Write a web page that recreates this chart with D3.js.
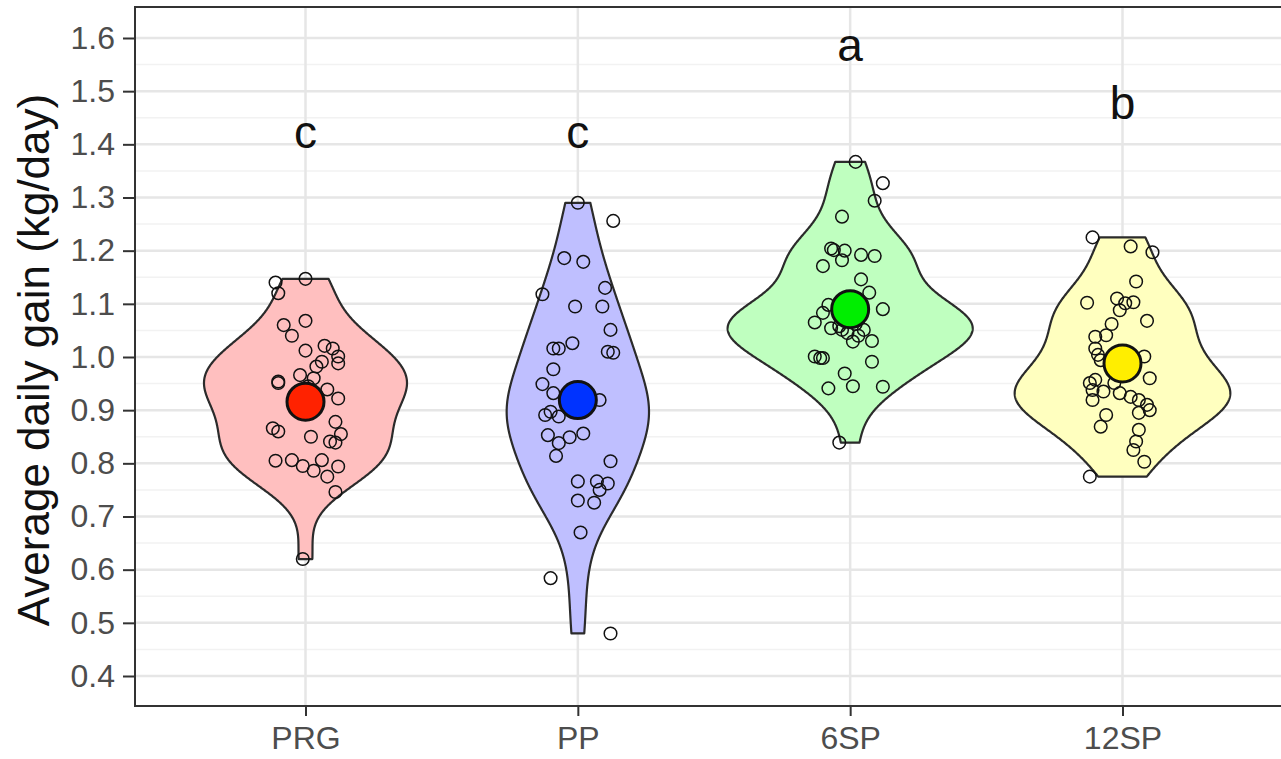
<!DOCTYPE html>
<html><head><meta charset="utf-8">
<script src="https://cdn.jsdelivr.net/npm/d3@7"></script>
<style>body{margin:0;background:#fff}svg{display:block}</style>
</head><body>
<svg id="c" width="1281" height="759"></svg>
<script>
const categories = ["PRG","PP","6SP","12SP"];
const fills = ["#FFBFBF","#BFBFFF","#BFFFBF","#FFFFBF"];
const meanColors = ["#FF2200","#0033FF","#00EE00","#FFEE00"];
const means = [0.916, 0.919, 1.090, 0.988];
const letters = ["c","c","a","b"];
const letterY = [1.415, 1.415, 1.58, 1.47];
const yTicks = [0.4,0.5,0.6,0.7,0.8,0.9,1.0,1.1,1.2,1.3,1.4,1.5,1.6];
const yMinor = [0.45,0.55,0.65,0.75,0.85,0.95,1.05,1.15,1.25,1.35,1.45,1.55];
// [value, jitter (in category units)]
const prg = [[1.140,-0.11],[1.120,-0.10],[1.147,0.00],[1.060,-0.08],[1.068,0.00],[1.040,-0.05],[1.012,0.00],[1.021,0.07],[1.016,0.10],[1.001,0.12],[0.988,0.12],[0.991,0.06],[0.982,0.04],[0.966,-0.02],[0.954,-0.10],[0.951,-0.10],[0.939,0.08],[0.922,0.12],[0.878,0.11],[0.855,0.13],[0.841,0.09],[0.839,0.11],[0.850,0.02],[0.866,-0.12],[0.860,-0.10],[0.805,-0.11],[0.806,-0.05],[0.795,-0.01],[0.786,0.03],[0.806,0.06],[0.775,0.08],[0.794,0.12],[0.746,0.11],[0.620,-0.01],[0.930,0.02],[0.905,-0.02],[0.945,0.01],[0.960,0.03],[0.925,-0.01],[0.915,0.01]];
const pp = [[1.290,0.00],[1.256,0.13],[1.186,-0.05],[1.179,0.02],[1.118,-0.13],[1.130,0.10],[1.095,0.09],[1.095,-0.01],[1.051,0.12],[1.026,-0.02],[1.016,-0.09],[1.016,-0.07],[1.010,0.11],[1.008,0.13],[0.977,-0.09],[0.949,-0.13],[0.932,-0.09],[0.919,0.08],[0.891,-0.12],[0.897,-0.10],[0.888,-0.07],[0.853,-0.11],[0.838,-0.07],[0.849,-0.03],[0.856,0.02],[0.814,-0.08],[0.804,0.12],[0.766,0.00],[0.766,0.07],[0.762,0.11],[0.750,0.08],[0.730,0.00],[0.726,0.06],[0.670,0.01],[0.584,-0.10],[0.480,0.12],[0.925,0.01],[0.912,-0.01],[0.905,0.02]];
const sp6 = [[1.367,0.02],[1.327,0.12],[1.294,0.09],[1.264,-0.03],[1.204,-0.07],[1.201,-0.06],[1.200,-0.02],[1.192,0.04],[1.190,0.09],[1.182,-0.03],[1.171,-0.10],[1.146,0.04],[1.121,0.07],[1.098,-0.08],[1.090,0.12],[1.083,-0.10],[1.065,-0.13],[1.054,-0.07],[1.051,-0.03],[1.045,-0.01],[1.051,0.05],[1.029,0.01],[1.030,0.08],[1.001,-0.13],[0.998,-0.11],[0.998,-0.10],[0.991,0.08],[0.969,-0.02],[0.945,0.01],[0.941,-0.08],[0.944,0.12],[0.839,-0.04],[1.085,0.00],[1.070,0.03],[1.078,-0.02],[1.062,0.02],[1.058,-0.04],[1.040,0.03]];
const sp12 = [[1.225,-0.11],[1.208,0.03],[1.197,0.11],[1.142,0.05],[1.102,-0.13],[1.110,-0.02],[1.101,0.01],[1.103,0.04],[1.088,-0.01],[1.068,0.09],[1.062,-0.04],[1.041,-0.06],[1.038,-0.10],[1.016,-0.10],[1.004,-0.09],[0.994,-0.08],[1.001,0.08],[0.960,0.10],[0.951,-0.12],[0.957,-0.10],[0.938,-0.11],[0.935,-0.07],[0.951,-0.03],[0.932,-0.01],[0.925,0.03],[0.919,0.06],[0.910,0.09],[0.900,0.10],[0.919,-0.11],[0.895,0.06],[0.891,-0.06],[0.869,-0.08],[0.863,0.06],[0.841,0.05],[0.825,0.04],[0.803,0.08],[0.775,-0.12]];
const groups = [prg, pp, sp6, sp12];

const svg = d3.select("#c");
const P = {left:135, right:1300, top:7, bottom:706};
const y = d3.scaleLinear().domain([0.4,1.6]).range([676,38]);
const x = d3.scalePoint().domain(categories).range([305.5,1122.5]);
const step = x.step();
const FONT = "'Liberation Sans', Arial, Helvetica, sans-serif";

const g = svg.append("g");
g.append("rect").attr("x",P.left).attr("y",P.top).attr("width",P.right-P.left).attr("height",P.bottom-P.top).attr("fill","#fff");
g.selectAll(".ymin").data(yMinor).join("line")
  .attr("x1",P.left).attr("x2",P.right).attr("y1",d=>y(d)).attr("y2",d=>y(d))
  .attr("stroke","#F2F2F2").attr("stroke-width",1.5);
g.selectAll(".ymaj").data(yTicks).join("line")
  .attr("x1",P.left).attr("x2",P.right).attr("y1",d=>y(d)).attr("y2",d=>y(d))
  .attr("stroke","#E6E6E6").attr("stroke-width",2.5);
g.selectAll(".xmaj").data(categories).join("line")
  .attr("x1",d=>x(d)).attr("x2",d=>x(d)).attr("y1",P.top).attr("y2",P.bottom)
  .attr("stroke","#E6E6E6").attr("stroke-width",2.5);

function sd(a){const m=d3.mean(a);return Math.sqrt(d3.sum(a,v=>(v-m)*(v-m))/(a.length-1));}
function bwNrd0(a){const s=a.slice().sort(d3.ascending);const iqr=d3.quantile(s,0.75)-d3.quantile(s,0.25);
  const lo=Math.min(sd(a), iqr/1.34);return 0.9*lo*Math.pow(a.length,-0.2);}
const dens = groups.map(gr=>{
  const v=gr.map(d=>d[0]);const bw=bwNrd0(v);const mn=d3.min(v),mx=d3.max(v);
  return d3.range(512).map(i=>{const t=mn+(mx-mn)*i/511;
    const dd=d3.sum(v,u=>Math.exp(-0.5*((t-u)/bw)**2))/(v.length*bw*Math.sqrt(2*Math.PI));return [t,dd];});
});
const maxD = d3.max(dens, p=>d3.max(p,d=>d[1]));
const half = 0.45*step;
dens.forEach((p,i)=>{
  const cx=x(categories[i]);
  const right=p.map(d=>[cx+half*d[1]/maxD,y(d[0])]);
  const left=p.slice().reverse().map(d=>[cx-half*d[1]/maxD,y(d[0])]);
  g.append("path").attr("d",d3.line()(right.concat(left))+"Z")
    .attr("fill",fills[i]).attr("stroke","#2b2b2b").attr("stroke-width",2.2).attr("stroke-linejoin","round");
});
groups.forEach((gr,i)=>{
  const cx=x(categories[i]);
  g.selectAll(null).data(gr).join("circle")
    .attr("cx",d=>cx+d[1]*step).attr("cy",d=>y(d[0])).attr("r",6.3)
    .attr("fill","none").attr("stroke","#111").attr("stroke-width",1.5);
});
g.selectAll(".mean").data(means).join("circle")
  .attr("cx",(d,i)=>x(categories[i])).attr("cy",d=>y(d)).attr("r",18.5)
  .attr("fill",(d,i)=>meanColors[i]).attr("stroke","#111").attr("stroke-width",3);
g.selectAll(".let").data(letters).join("text")
  .attr("x",(d,i)=>x(categories[i])).attr("y",(d,i)=>y(letterY[i])).attr("dy","0.26em")
  .attr("text-anchor","middle").attr("font-family",FONT).attr("font-size",46).attr("fill","#111").text(d=>d);
g.append("rect").attr("x",P.left).attr("y",P.top).attr("width",P.right-P.left).attr("height",P.bottom-P.top)
  .attr("fill","none").attr("stroke","#333").attr("stroke-width",2);
const ya = svg.append("g").attr("transform",`translate(${P.left},0)`)
  .call(d3.axisLeft(y).tickValues(yTicks).tickFormat(d3.format(".1f")).tickSize(12).tickPadding(8));
ya.select(".domain").remove();
ya.selectAll(".tick line").attr("stroke","#333").attr("stroke-width",2);
ya.selectAll(".tick text").attr("font-family",FONT).attr("font-size",32).attr("fill","#4D4D4D");
const xa = svg.append("g").attr("transform",`translate(0,${P.bottom})`)
  .call(d3.axisBottom(x).tickSize(10).tickPadding(6));
xa.select(".domain").remove();
xa.selectAll(".tick line").attr("stroke","#333").attr("stroke-width",2);
xa.selectAll(".tick text").attr("font-family",FONT).attr("font-size",32).attr("fill","#4D4D4D").attr("dy","0.85em");
svg.append("text").attr("transform","translate(49,360) rotate(-90)")
  .attr("text-anchor","middle").attr("font-family",FONT).attr("font-size",44).attr("fill","#111")
  .text("Average daily gain (kg/day)");
</script>
</body></html>
